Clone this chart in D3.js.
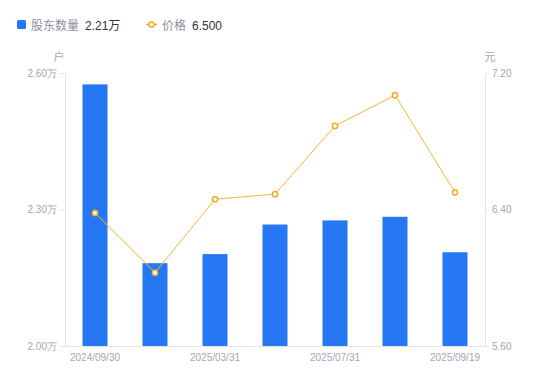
<!DOCTYPE html>
<html>
<head>
<meta charset="utf-8">
<script src="https://cdn.jsdelivr.net/npm/d3@7"></script>
<style>
  body { margin: 0; background: #fff; }
  svg { display: block; font-family: "Liberation Sans", Arial, "Noto Sans CJK SC", sans-serif; }
</style>
</head>
<body>
<div id="chart"></div>
<script>
const dates = ['2024/09/30', '2024/12/31', '2025/03/31', '2025/06/30', '2025/07/31', '2025/08/31', '2025/09/19']
const holders = [2.575, 2.182, 2.202, 2.267, 2.276, 2.284, 2.206]   // 万户
const prices = [6.38, 6.03, 6.46, 6.49, 6.89, 7.07, 6.50]
const holderTicks = [2.0, 2.3, 2.6]
const priceTicks = [5.6, 6.4, 7.2]

const width = 550, height = 381
const margin = { top: 73, right: 65, bottom: 35, left: 65 }

const blue = '#2677f4'
const orange = '#f8b534'
const axisColor = '#e4e4e8'
const textGrey = '#a3a5b4'

const svg = d3.select('#chart').append('svg')
  .attr('width', width)
  .attr('height', height)

const x = d3.scaleBand()
  .domain(dates)
  .range([margin.left, width - margin.right])
  .padding(0)

const yLeft = d3.scaleLinear()
  .domain([2.0, 2.6])
  .range([height - margin.bottom, margin.top])

const yRight = d3.scaleLinear()
  .domain([5.6, 7.2])
  .range([height - margin.bottom, margin.top])

// axes
const styleAxis = g => {
  g.select('.domain').attr('stroke', axisColor)
  g.selectAll('.tick line').attr('stroke', axisColor)
  g.selectAll('.tick text').attr('fill', textGrey).style('font-size', '10px')
}

svg.append('g')
  .attr('transform', `translate(${margin.left},0)`)
  .call(d3.axisLeft(yLeft).tickValues(holderTicks).tickSize(5).tickSizeOuter(0).tickPadding(3)
    .tickFormat(d => d.toFixed(2) + '万'))
  .call(styleAxis)

svg.append('g')
  .attr('transform', `translate(${width - margin.right},0)`)
  .call(d3.axisRight(yRight).tickValues(priceTicks).tickSize(4).tickSizeOuter(0).tickPadding(3)
    .tickFormat(d => d.toFixed(2)))
  .call(styleAxis)

svg.append('g')
  .attr('transform', `translate(0,${height - margin.bottom})`)
  .call(d3.axisBottom(x).tickSize(0).tickSizeOuter(0).tickPadding(8)
    .tickFormat((d, i) => i % 2 === 0 ? d : ''))
  .call(styleAxis)

// unit labels
svg.append('text')
  .attr('x', 59).attr('y', 61)
  .attr('text-anchor', 'middle')
  .attr('fill', textGrey)
  .style('font-size', '11px')
  .text('户')

svg.append('text')
  .attr('x', 490).attr('y', 61)
  .attr('text-anchor', 'middle')
  .attr('fill', textGrey)
  .style('font-size', '11px')
  .text('元')

// bars
const barW = 25
svg.selectAll('.bar')
  .data(dates)
  .join('rect')
  .attr('class', 'bar')
  .attr('x', d => x(d) + x.bandwidth() / 2 - barW / 2)
  .attr('width', barW)
  .attr('y', (d, i) => yLeft(holders[i]))
  .attr('height', (d, i) => yLeft(2.0) - yLeft(holders[i]))
  .attr('fill', blue)

// price line
const line = d3.line()
  .x((d, i) => x(dates[i]) + x.bandwidth() / 2)
  .y(d => yRight(d))

svg.append('path')
  .datum(prices)
  .attr('d', line)
  .attr('fill', 'none')
  .attr('stroke', orange)
  .attr('stroke-width', 1)

svg.selectAll('.dot')
  .data(prices)
  .join('circle')
  .attr('class', 'dot')
  .attr('cx', (d, i) => x(dates[i]) + x.bandwidth() / 2)
  .attr('cy', d => yRight(d))
  .attr('r', 2.6)
  .attr('fill', '#fff')
  .attr('stroke', '#f6a925')
  .attr('stroke-width', 1.5)

// legend
const legend = svg.append('g').style('font-size', '12px')

legend.append('rect')
  .attr('x', 17).attr('y', 20).attr('width', 9).attr('height', 9).attr('rx', 1.5)
  .attr('fill', blue)
legend.append('text').attr('x', 31).attr('y', 29.5).attr('fill', '#8d90a0').text('股东数量')
legend.append('text').attr('x', 85).attr('y', 29.5).attr('fill', '#333').text(holders[holders.length - 1].toFixed(2) + '万')

legend.append('line')
  .attr('x1', 146).attr('x2', 157).attr('y1', 24.5).attr('y2', 24.5)
  .attr('stroke', '#f6a925').attr('stroke-width', 1.5)
legend.append('circle')
  .attr('cx', 151.5).attr('cy', 24.5).attr('r', 2.6)
  .attr('fill', '#fff').attr('stroke', '#f6a925').attr('stroke-width', 1.5)
legend.append('text').attr('x', 162).attr('y', 29.5).attr('fill', '#8d90a0').text('价格')
legend.append('text').attr('x', 192).attr('y', 29.5).attr('fill', '#333').text(prices[prices.length - 1].toFixed(3))
</script>
</body>
</html>
